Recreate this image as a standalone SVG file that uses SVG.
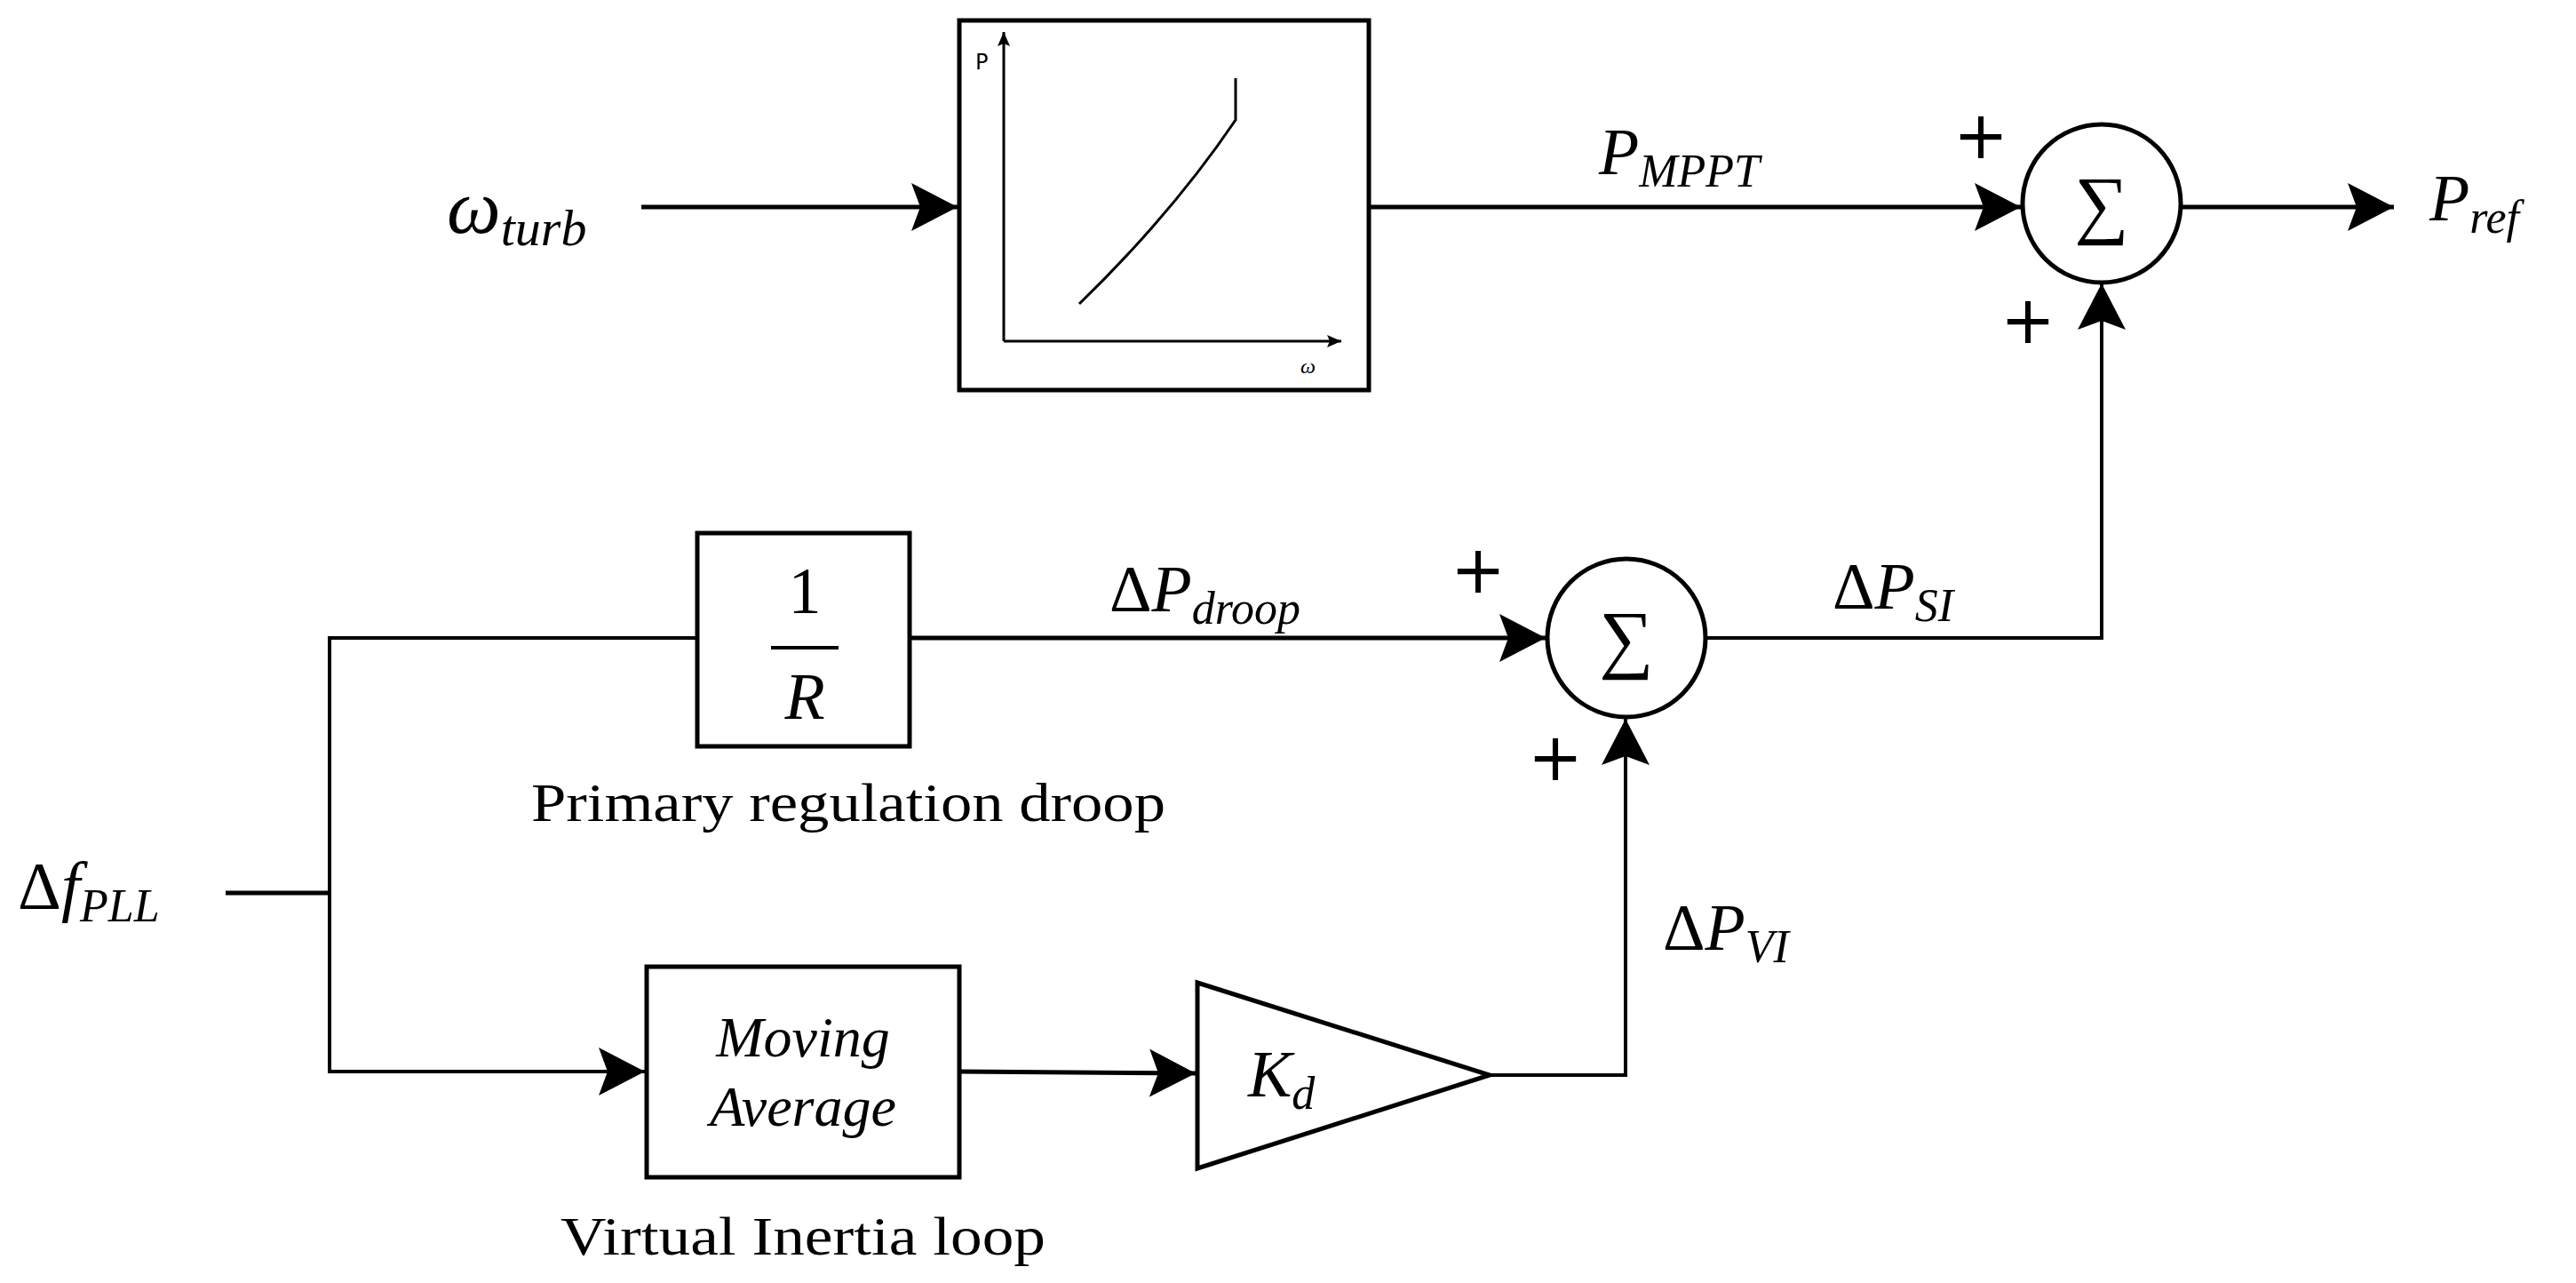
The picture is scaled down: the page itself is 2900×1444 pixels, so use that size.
<svg xmlns="http://www.w3.org/2000/svg" width="2900" height="1444" viewBox="0 0 2900 1444">
<style>
.ln{fill:none;stroke:#000;stroke-width:5}
.bx{fill:#fff;stroke:#000;stroke-width:5}
.m{font-family:"Liberation Serif",serif;font-style:italic;fill:#000}
.r{font-family:"Liberation Serif",serif;fill:#000}
.s{font-family:"DejaVu Sans",sans-serif;fill:#000}
</style>
<defs>
<marker id="ah" markerUnits="userSpaceOnUse" markerWidth="56" markerHeight="56" refX="52" refY="27" orient="auto">
<path d="M0,0 L52,27 L0,54 L10,27 z" fill="#000"/>
</marker>
<marker id="sa" markerUnits="userSpaceOnUse" markerWidth="20" markerHeight="20" refX="16" refY="7" orient="auto">
<path d="M0,0 L16,7 L0,14 L3,7 z" fill="#000"/>
</marker>
</defs>
<g id="connectors">
<line class="ln" x1="722" y1="233" x2="1078" y2="233" marker-end="url(#ah)"/>
<line class="ln" x1="1541" y1="233" x2="2275" y2="233" marker-end="url(#ah)"/>
<line class="ln" x1="2455" y1="233" x2="2695" y2="233" marker-end="url(#ah)"/>
<polyline class="ln" points="1922,718 2366,718 2366,319" style="stroke-width:4" marker-end="url(#ah)"/>
<line class="ln" x1="1024" y1="718" x2="1740" y2="718" marker-end="url(#ah)"/>
<polyline class="ln" points="1677,1210 1830,1210 1830,809" style="stroke-width:4" marker-end="url(#ah)"/>
<line class="ln" x1="254" y1="1005" x2="371" y2="1005"/>
<polyline class="ln" points="785,718 371,718 371,1206 726,1206" style="stroke-width:4" marker-end="url(#ah)"/>
<line class="ln" x1="1080" y1="1206" x2="1346" y2="1208" marker-end="url(#ah)"/>
</g>
<g id="omega_in"><text class="m" x="503" y="262" font-size="86">ω<tspan font-size="58" dy="14">turb</tspan></text></g>
<g id="mppt">
<rect class="bx" x="1080" y="23" width="461" height="416"/>
<line x1="1130" y1="384" x2="1510" y2="384" stroke="#000" stroke-width="3" marker-end="url(#sa)"/>
<line x1="1130" y1="384" x2="36" y2="36" stroke="none"/>
<line x1="1130" y1="384" x2="1130" y2="36" stroke="#000" stroke-width="3" marker-end="url(#sa)"/>
<path d="M1215,342 Q1320,240 1391,135 L1391,88" fill="none" stroke="#000" stroke-width="3"/>
<text class="s" x="1098" y="78" font-size="24">P</text>
<text class="m" x="1464" y="420" font-size="24">ω</text>
</g>
<g id="pmppt_label"><text class="m" x="1800" y="196" font-size="74">P<tspan font-size="52" dy="14">MPPT</tspan></text></g>
<g id="sum1">
<circle class="bx" cx="2366" cy="229" r="89"/>
<text class="r" x="2366" y="258" font-size="86" text-anchor="middle">∑</text>
<text class="s" x="2230" y="178" font-size="74" text-anchor="middle">+</text>
<text class="s" x="2283" y="386" font-size="74" text-anchor="middle">+</text>
</g>
<g id="pref"><text class="m" x="2735" y="248" font-size="74">P<tspan font-size="52" dy="14">ref</tspan></text></g>
<g id="sum2">
<circle class="bx" cx="1831" cy="718" r="89"/>
<text class="r" x="1831" y="747" font-size="86" text-anchor="middle">∑</text>
<text class="s" x="1664" y="667" font-size="74" text-anchor="middle">+</text>
<text class="s" x="1751" y="878" font-size="74" text-anchor="middle">+</text>
</g>
<g id="dpsi"><text class="m" x="2063" y="685" font-size="74"><tspan font-style="normal">Δ</tspan>P<tspan font-size="52" dy="14">SI</tspan></text></g>
<g id="dpdroop"><text class="m" x="1249" y="688" font-size="74"><tspan font-style="normal">Δ</tspan>P<tspan font-size="52" dy="14">droop</tspan></text></g>
<g id="dpvi"><text class="m" x="1872" y="1069" font-size="74"><tspan font-style="normal">Δ</tspan>P<tspan font-size="52" dy="14">VI</tspan></text></g>
<g id="droop">
<rect class="bx" x="785" y="600" width="239" height="240"/>
<text class="r" x="906" y="690" font-size="74" text-anchor="middle">1</text>
<line x1="868" y1="729" x2="944" y2="729" stroke="#000" stroke-width="4"/>
<text class="m" x="906" y="809" font-size="74" text-anchor="middle">R</text>
<text class="r" x="955" y="924" font-size="62" text-anchor="middle" textLength="714" lengthAdjust="spacingAndGlyphs">Primary regulation droop</text>
</g>
<g id="dfpll"><text class="m" x="20" y="1023" font-size="76"><tspan font-style="normal">Δ</tspan>f<tspan font-size="52" dy="14">PLL</tspan></text></g>
<g id="movavg">
<rect class="bx" x="728" y="1088" width="352" height="237"/>
<text class="m" x="904" y="1189" font-size="64" text-anchor="middle">Moving</text>
<text class="m" x="904" y="1267" font-size="64" text-anchor="middle">Average</text>
<text class="r" x="904" y="1412" font-size="62" text-anchor="middle" textLength="546" lengthAdjust="spacingAndGlyphs">Virtual Inertia loop</text>
</g>
<g id="kd">
<polygon class="bx" points="1348,1106 1677,1210 1348,1315"/>
<text class="m" x="1405" y="1234" font-size="74">K<tspan font-size="52" dy="14">d</tspan></text>
</g>
</svg>
